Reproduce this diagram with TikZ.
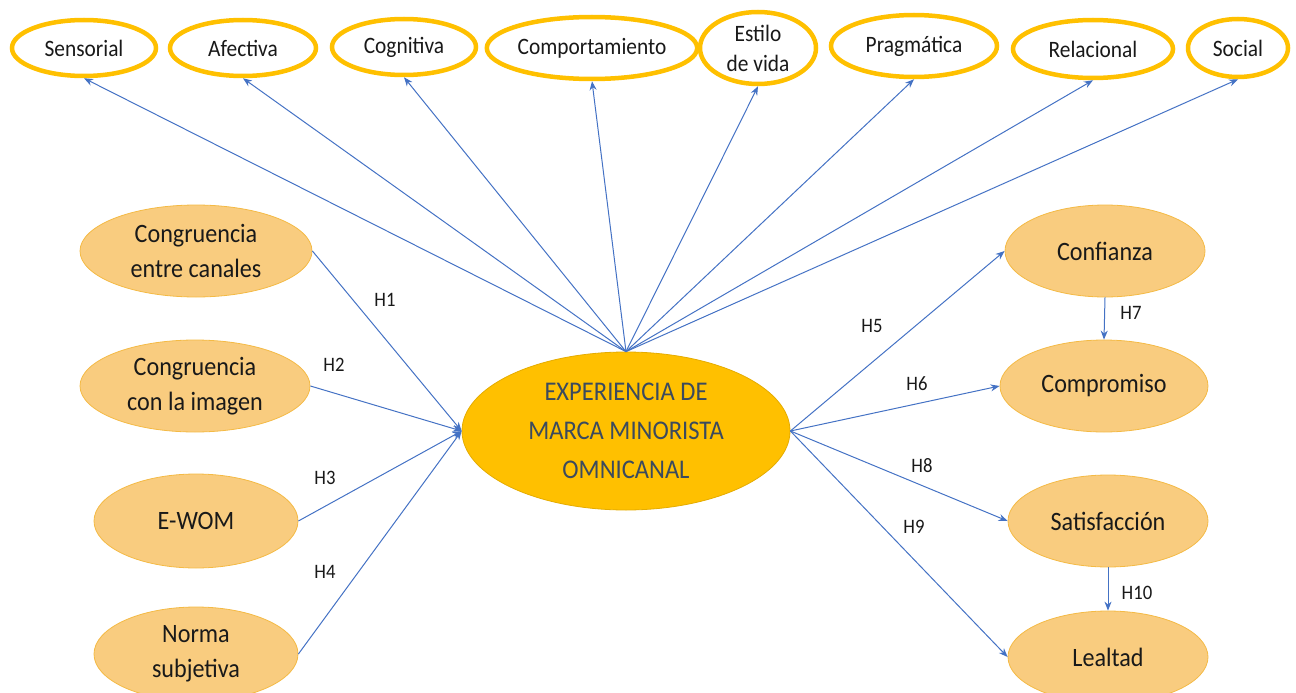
\documentclass[tikz,border=0pt]{standalone}
\usepackage{fontspec}
\setmainfont{Carlito}[FakeStretch=0.91]
\usetikzlibrary{shapes.geometric,arrows.meta}
\definecolor{gold}{HTML}{FFC000}
\definecolor{goldline}{HTML}{E5AC00}
\definecolor{lorange}{HTML}{F9CC7F}
\definecolor{lborder}{HTML}{F4BA45}
\definecolor{arr}{HTML}{4472C4}
\definecolor{navy}{HTML}{3B4A5E}
\begin{document}
\begin{tikzpicture}[x=1pt,y=-1pt,
 topnode/.style={ellipse, draw=gold, line width=4.5pt, fill=white, inner sep=0pt, font=\fontsize{23.5}{30}\selectfont, align=center, text=black!90},
 lat/.style={ellipse, draw=lborder, line width=0.8pt, fill=lorange, inner sep=0pt, font=\fontsize{26.5}{35}\selectfont, align=center, text=black!90},
 conn/.style={draw=arr, line width=1pt, -{Stealth[length=9pt,width=7pt]}},
 hl/.style={font=\fontsize{20.5}{22}\selectfont, text=black!90, inner sep=0pt}
]
\useasboundingbox (0,0) rectangle (1296,693);
% top dimensions
\node[topnode, minimum width=144, minimum height=56] (t1) at (84,48) {Sensorial};
\node[topnode, minimum width=146, minimum height=56] (t2) at (243,48) {Afectiva};
\node[topnode, minimum width=144, minimum height=56] (t3) at (404,47) {Cognitiva};
\node[topnode, minimum width=184, minimum height=62] (t4) at (592,48) {Comportamiento};
\node[topnode, minimum width=116, minimum height=72] (t5) at (758,48) {Estilo\\de vida};
\node[topnode, minimum width=166, minimum height=62] (t6) at (914,46) {Pragmática};
\node[topnode, minimum width=160, minimum height=58] (t7) at (1093,49) {Relacional};
\node[topnode, minimum width=100, minimum height=58] (t8) at (1238,48) {Social};
% center
\node[ellipse, draw=goldline, line width=0.8pt, fill=gold, inner sep=0pt, minimum width=328, minimum height=158, align=center, text=navy, font=\fontsize{27}{39}\selectfont] (c) at (626,431) {EXPERIENCIA DE\\MARCA MINORISTA\\OMNICANAL};
% left
\node[lat, minimum width=232, minimum height=92] (l1) at (196,251) {Congruencia\\entre canales};
\node[lat, minimum width=230, minimum height=92] (l2) at (195,386) {Congruencia\\con la imagen};
\node[lat, minimum width=204, minimum height=94] (l3) at (196,521) {E-WOM};
\node[lat, minimum width=204, minimum height=94] (l4) at (196,654) {Norma\\subjetiva};
% right
\node[lat, minimum width=200, minimum height=92] (r1) at (1105,251) {Confianza};
\node[lat, minimum width=208, minimum height=92] (r2) at (1104,386) {Compromiso};
\node[lat, minimum width=200, minimum height=92] (r3) at (1108,521) {Satisfacción};
\node[lat, minimum width=200, minimum height=92] (r4) at (1108,657) {Lealtad};
% top connectors
\foreach \t in {t1,t2,t3,t4,t5,t6,t7,t8} \draw[conn] (c.north) -- (\t.south);
% left connectors
\draw[conn] (l1.east) -- (c.west);
\draw[conn] (l2.east) -- (c.west);
\draw[conn] (l3.east) -- (c.west);
\draw[conn] (l4.east) -- (c.west);
% right connectors
\draw[conn] (c.east) -- (r1.west);
\draw[conn] (c.east) -- (r2.west);
\draw[conn] (c.east) -- (r3.west);
\draw[conn] (c.east) -- (r4.west);
\draw[conn] (r1.south) -- (r2.north);
\draw[conn] (r3.south) -- (r4.north);
% labels
\node[hl] (h1) at (385,300) {H1};
\node[hl] (h2) at (334,365) {H2};
\node[hl] (h3) at (325,478) {H3};
\node[hl] (h4) at (325,572) {H4};
\node[hl] (h5) at (872,326) {H5};
\node[hl] (h6) at (917,384) {H6};
\node[hl] (h7) at (1131,313) {H7};
\node[hl] (h8) at (922,466) {H8};
\node[hl] (h9) at (914,527) {H9};
\node[hl] (h10) at (1137,593) {H10};
\end{tikzpicture}
\end{document}
